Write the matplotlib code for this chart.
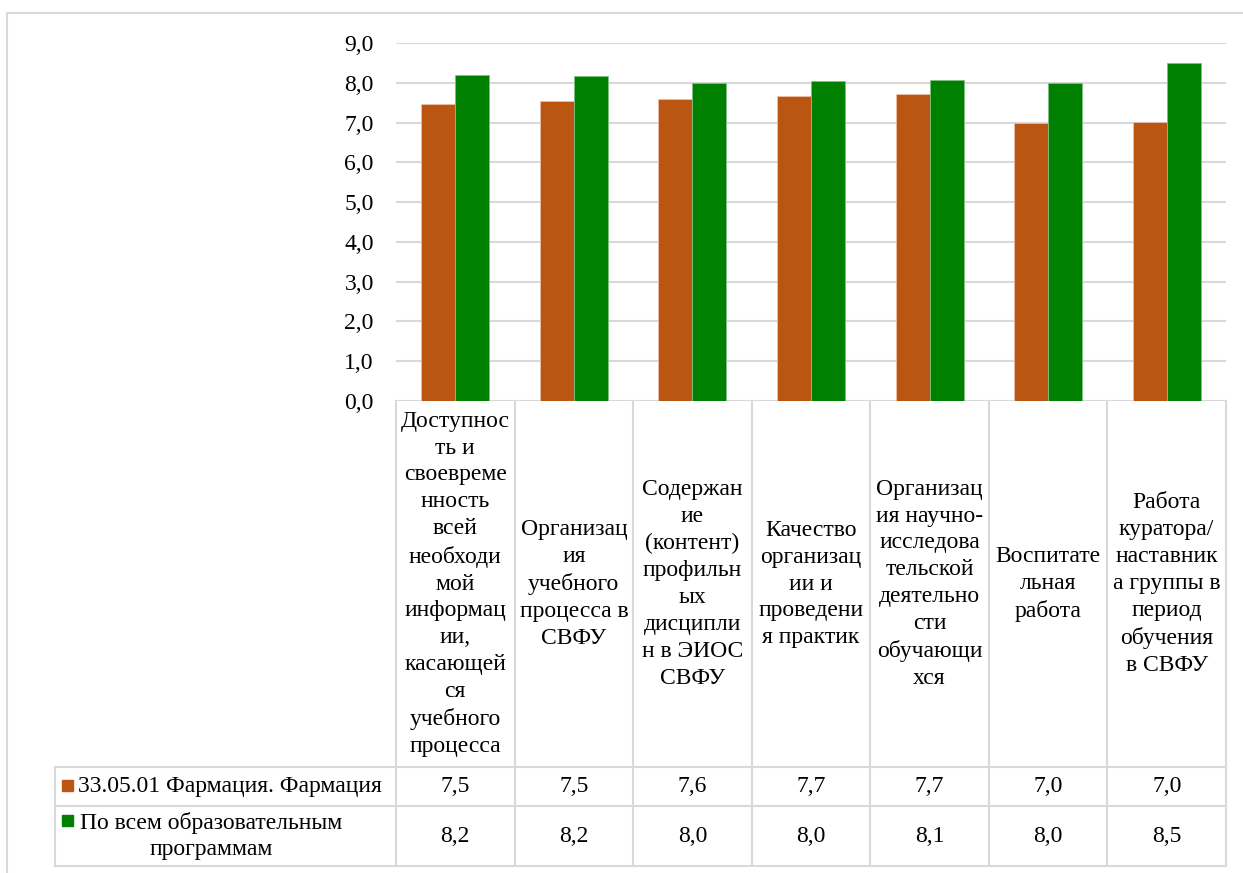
import numpy as np
import matplotlib.pyplot as plt
from matplotlib.patches import Rectangle

plt.rcParams['font.family'] = ['Liberation Serif', 'DejaVu Serif']

categories = [
    "Доступнос\nть и\nсвоевреме\nнность\nвсей\nнеобходи\nмой\nинформац\nии,\nкасающей\nся\nучебного\nпроцесса",
    "Организац\nия\nучебного\nпроцесса в\nСВФУ",
    "Содержан\nие\n(контент)\nпрофильн\nых\nдисципли\nн в ЭИОС\nСВФУ",
    "Качество\nорганизац\nии и\nпроведени\nя практик",
    "Организац\nия научно-\nисследова\nтельской\nдеятельно\nсти\nобучающи\nхся",
    "Воспитате\nльная\nработа",
    "Работа\nкуратора/\nнаставник\nа группы в\nпериод\nобучения\nв СВФУ",
]
series_names = ["33.05.01 Фармация. Фармация", "По всем образовательным\nпрограммам"]
pharm = [7.46, 7.54, 7.59, 7.66, 7.71, 6.98, 7.01]
allprog = [8.19, 8.17, 7.99, 8.04, 8.07, 7.99, 8.49]
colors = ['#BB5612', '#008000']

W, H = 1243, 873
fig = plt.figure(figsize=(W / 100, H / 100), dpi=100)

# layout in pixels
px_l, px_r = 396, 1226
px_top, px_bot = 43, 401
row0, row1, row2 = 767, 806, 866
leg_l = 55
fs = 17
grid_c = '#d9d9d9'

ax = fig.add_axes([px_l / W, 1 - px_bot / H, (px_r - px_l) / W, (px_bot - px_top) / H])
n = len(categories)
x = np.arange(n)
bw = 0.287
ax.bar(x - bw / 2, pharm, bw, color=colors[0], edgecolor='#e8c0a8', linewidth=0.6, zorder=3)
ax.bar(x + bw / 2, allprog, bw, color=colors[1], edgecolor='#80c080', linewidth=0.6, zorder=3)
ax.set_xlim(-0.5, n - 0.5)
ax.set_ylim(0, 9)
ax.set_yticks(np.arange(0, 10))
ax.set_yticklabels([f"{v:.1f}".replace('.', ',') for v in np.arange(0, 10)], fontsize=fs)
ax.set_xticks([])
ax.tick_params(axis='y', length=0, pad=16)
ax.grid(axis='y', color=grid_c, linewidth=1.5, zorder=0)
for s in ax.spines.values():
    s.set_visible(False)

# overlay in pixel coordinates for the data table
ov = fig.add_axes([0, 0, 1, 1])
ov.set_xlim(0, W)
ov.set_ylim(H, 0)
ov.axis('off')

# chart frame (cut at right/bottom)
ov.plot([7, 7], [13, H], color=grid_c, lw=1.5)
ov.plot([7, W], [13, 13], color=grid_c, lw=1.5)

cw = (px_r - px_l) / n
for i in range(n + 1):
    xx = px_l + i * cw
    ov.plot([xx, xx], [px_bot, row2], color=grid_c, lw=1.5)
for yy in [row0, row1, row2]:
    ov.plot([leg_l, px_r], [yy, yy], color=grid_c, lw=1.5)
ov.plot([leg_l, leg_l], [row0, row2], color=grid_c, lw=1.5)

for i, lab in enumerate(categories):
    cx = px_l + (i + 0.5) * cw
    ov.text(cx, (px_bot + row0) / 2, lab, ha='center', va='center', fontsize=fs,
            multialignment='center', linespacing=1.37)
    ov.text(cx, (row0 + row1) / 2, f"{pharm[i]:.1f}".replace('.', ','), ha='center', va='center', fontsize=fs)
    ov.text(cx, (row1 + row2) / 2, f"{allprog[i]:.1f}".replace('.', ','), ha='center', va='center', fontsize=fs)

# legend keys
ov.add_patch(Rectangle((62, 780), 11, 11, color=colors[0]))
ov.text(78, (row0 + row1) / 2, series_names[0], ha='left', va='center', fontsize=fs)
ov.add_patch(Rectangle((62, 815), 11, 11, color=colors[1]))
ov.text(211, (row1 + row2) / 2, series_names[1], ha='center', va='center', fontsize=fs,
        multialignment='center', linespacing=1.3)

fig.savefig('out.png', dpi=100)
